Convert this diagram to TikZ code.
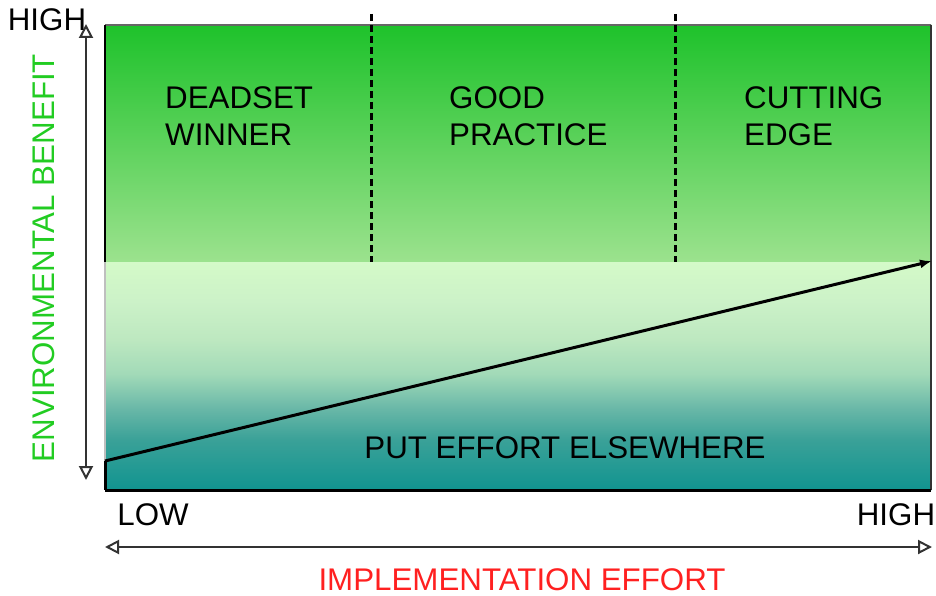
\documentclass[tikz,border=0pt]{standalone}
\usepackage{fontspec}
\setmainfont{Liberation Sans}
\usetikzlibrary{arrows.meta}
\definecolor{gtop}{HTML}{1EC22B}
\definecolor{gmid}{HTML}{5DD25C}
\definecolor{gbot}{HTML}{9CE28E}
\definecolor{l0}{HTML}{119490}
\definecolor{l1}{HTML}{3AA198}
\definecolor{l2}{HTML}{6AB8A8}
\definecolor{l3}{HTML}{A2DAB8}
\definecolor{l4}{HTML}{BDE8C0}
\definecolor{l5}{HTML}{CCF2C8}
\definecolor{l6}{HTML}{D4FAC8}
\definecolor{labgreen}{HTML}{22CC22}
\definecolor{labred}{HTML}{FF2020}
\definecolor{axisgray}{HTML}{333333}
\pgfdeclareverticalshading{upperband}{100bp}{color(0bp)=(gbot); color(25bp)=(gbot); color(50bp)=(gmid); color(75bp)=(gtop); color(100bp)=(gtop)}
\pgfdeclareverticalshading{lowerband}{100bp}{color(0bp)=(l0); color(25bp)=(l0); color(36bp)=(l1); color(43bp)=(l2); color(50.5bp)=(l3); color(58bp)=(l4); color(66.5bp)=(l5); color(75bp)=(l6); color(100bp)=(l6)}
\tikzset{
  lbl/.style={font=\fontsize{31.3}{37}\selectfont, inner sep=0pt},
  zonetext/.style={lbl, align=left, anchor=north west},
  axisarrow/.style={draw=axisgray, line width=2.5pt, {Triangle[open,length=14pt,width=14pt,line width=2pt]}-{Triangle[open,length=14pt,width=14pt,line width=2pt]}},
  divider/.style={draw=black, line width=3pt, dash pattern=on 7pt off 4pt},
}
\begin{document}
\begin{tikzpicture}[x=1pt,y=-1pt]
\useasboundingbox (0,0) rectangle (936,596);
% corners
\coordinate (tl) at (105,25);
\coordinate (tr) at (931,25);
\coordinate (ml) at (105,262);
\coordinate (mr) at (931,262);
\coordinate (bl) at (105,490);
\coordinate (br) at (931,490);
% bands
\fill[shading=upperband] (tl) rectangle (mr);
\fill[shading=lowerband] (ml) rectangle (br);
% border
\draw[gray!80!black, line width=2pt] (tl) -- (tr);
\draw[black!80, line width=2.5pt] (tr) -- (br);
\draw[black, line width=3pt] (bl) -- (br);
\draw[black, line width=2pt] (tl) -- (ml);
\draw[gray!50, line width=2pt] (ml) -- (105,461);
\coordinate (ds) at (105,461);
\coordinate (de) at (932,261);
\draw[black, line width=3pt] (ds) -- (bl);
% dividers
\coordinate (d1t) at (371,14);
\coordinate (d1b) at (371,262);
\coordinate (d2t) at (675,14);
\coordinate (d2b) at (675,262);
\draw[divider] (d1t) -- (d1b);
\draw[divider] (d2t) -- (d2b);
% diagonal
\draw[black, line width=3pt, -{Latex[length=12pt,width=9pt]}] (ds) -- (de);
% zone labels
\node[zonetext] (z1) at (165,86) {DEADSET\\WINNER};
\node[zonetext] (z2) at (449,86) {GOOD\\PRACTICE};
\node[zonetext] (z3) at (744,86) {CUTTING\\EDGE};
\node[lbl] (z4) at (565,448) {PUT EFFORT ELSEWHERE};
% axes
\coordinate (vt) at (86,24);
\coordinate (vb) at (86,480);
\coordinate (hl) at (105,547);
\coordinate (hr) at (932,547);
\draw[axisarrow] (vb) -- (vt);
\draw[axisarrow] (hl) -- (hr);
\node[lbl] (yhigh) at (47,20) {HIGH};
\node[lbl] (xlow) at (153,515) {LOW};
\node[lbl] (xhigh) at (896,515) {HIGH};
\node[lbl, text=labgreen, rotate=90] (ylab) at (44,258) {ENVIRONMENTAL BENEFIT};
\node[lbl, text=labred] (xlab) at (522,580) {IMPLEMENTATION EFFORT};
\end{tikzpicture}
\end{document}
